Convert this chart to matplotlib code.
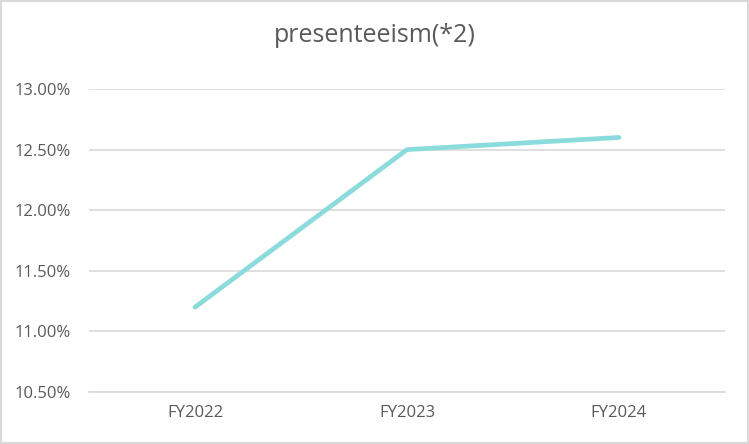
import matplotlib
matplotlib.use("Agg")
import matplotlib.pyplot as plt
from matplotlib.patches import FancyBboxPatch
from matplotlib.ticker import FuncFormatter

# data
years = ["FY2022", "FY2023", "FY2024"]
presenteeism = [11.20, 12.50, 12.60]  # percent
y_ticks = [10.5, 11.0, 11.5, 12.0, 12.5, 13.0]

text_color = "#595959"
grid_color = "#D9D9D9"
line_color = "#8ADCDC"

plt.rcParams['font.family'] = ['Open Sans', 'DejaVu Sans']

fig = plt.figure(figsize=(7.49, 4.44), dpi=100)
ax = fig.add_axes([89 / 749, 1 - 392 / 444, (725 - 89) / 749, (392 - 89) / 444])

# outer chart border
fig.patches.append(FancyBboxPatch((0.002, 0.003), 0.996, 0.994,
                                  boxstyle="square,pad=0", transform=fig.transFigure,
                                  facecolor="none", edgecolor=grid_color, linewidth=1.5))

x = range(len(years))
ax.plot(x, presenteeism, color=line_color, linewidth=3.4, solid_capstyle="round",
        solid_joinstyle="round", zorder=3)

ax.set_xlim(-0.5, len(years) - 0.5)
ax.set_ylim(10.5, 13.0)
ax.set_yticks(y_ticks)
ax.yaxis.set_major_formatter(FuncFormatter(lambda v, p: f"{v:.2f}%"))
ax.set_xticks(list(x))
ax.set_xticklabels(years)

ax.grid(axis="y", color=grid_color, linewidth=1.2)
ax.set_axisbelow(True)
for side in ["top", "right", "left"]:
    ax.spines[side].set_visible(False)
ax.spines["bottom"].set_color(grid_color)
ax.spines["bottom"].set_linewidth(1.2)

ax.tick_params(axis="both", length=0, colors=text_color, labelsize=12)
ax.tick_params(axis="y", pad=13)
ax.tick_params(axis="x", pad=9)

fig.suptitle("presenteeism(*2)", x=0.5, y=1 - 35 / 444, va="center",
             fontsize=18, color=text_color)

fig.savefig("out.png", dpi=100)
